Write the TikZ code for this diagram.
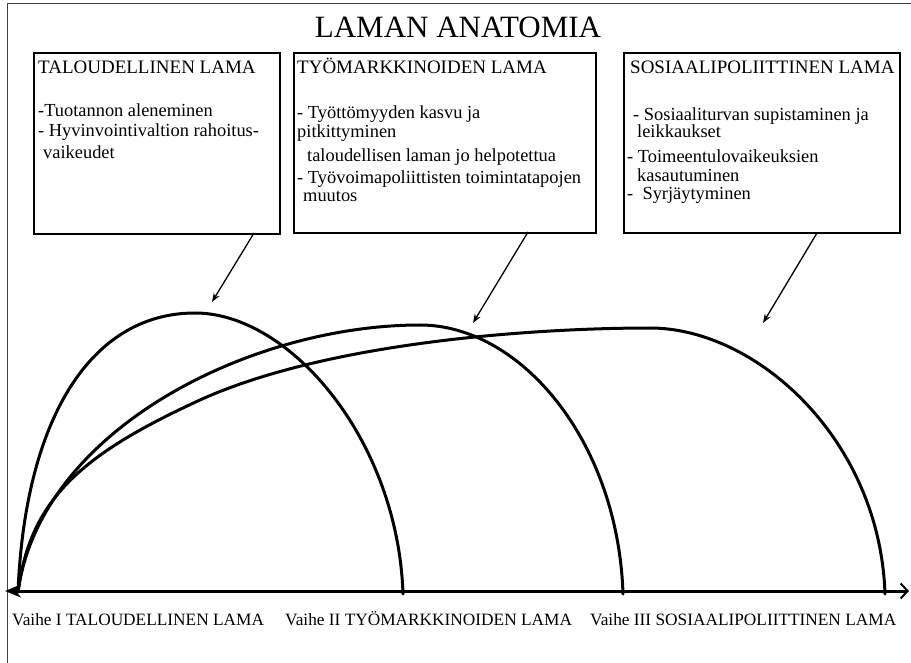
\documentclass[tikz,border=0pt]{standalone}
\usepackage{fontspec}
\setmainfont{Liberation Serif}
\usetikzlibrary{arrows.meta}
\begin{document}
\begin{tikzpicture}[x=1pt,y=-1pt,
  frameline/.style={line width=1pt, black!75},
  boxframe/.style={draw, line width=1.6pt, inner sep=0pt},
  ln/.style={anchor=base west, inner sep=0pt, font=\fontsize{18.4}{21.5}\selectfont},
  hd/.style={anchor=base west, inner sep=0pt, font=\fontsize{19}{22}\selectfont},
  phase/.style={anchor=base west, inner sep=0pt, font=\fontsize{17.3}{20}\selectfont},
  curve/.style={line width=3pt, line cap=round},
  pointer/.style={line width=1.3pt, -{Stealth[length=9pt,width=6.5pt]}},
  axisline/.style={line width=3pt, {Stealth[length=16pt,width=13pt]}-{Straight Barb[length=7pt,width=15pt,line width=2pt]}}
]
\useasboundingbox (0,0) rectangle (911,663);
% outer frame
\coordinate (fTL) at (7,4);
\coordinate (fTR) at (911,4);
\coordinate (fBL) at (7,663);
\draw[frameline] (fBL) -- (fTL) -- (fTR);
% title
\node[anchor=base, inner sep=0pt, font=\fontsize{31}{35}\selectfont] (title) at (458,38) {LAMAN ANATOMIA};
% boxes
\node[boxframe, minimum width=246pt, minimum height=181pt] (b1) at (157,143.5) {};
\node[boxframe, minimum width=302pt, minimum height=180pt] (b2) at (445,143) {};
\node[boxframe, minimum width=276pt, minimum height=180pt] (b3) at (762,143) {};
% box 1 text
\node[hd] (t1a) at (38,74) {TALOUDELLINEN LAMA};
\node[ln] (t1b) at (38,117) {-Tuotannon aleneminen};
\node[ln] (t1c) at (38,137) {- Hyvinvointivaltion rahoitus-};
\node[ln] (t1d) at (43,159) {vaikeudet};
% box 2 text
\node[hd] (t2a) at (297,74) {TYÖMARKKINOIDEN LAMA};
\node[ln] (t2b) at (297,119) {- Työttömyyden kasvu ja};
\node[ln] (t2c) at (297,138) {pitkittyminen};
\node[ln] (t2d) at (307,162) {taloudellisen laman jo helpotettua};
\node[ln] (t2e) at (297,184) {- Työvoimapoliittisten toimintatapojen};
\node[ln] (t2f) at (303,202) {muutos};
% box 3 text
\node[hd] (t3a) at (630,74) {SOSIAALIPOLIITTINEN LAMA};
\node[ln] (t3b) at (633,121) {- Sosiaaliturvan supistaminen ja};
\node[ln] (t3c) at (637,138) {leikkaukset};
\node[ln] (t3d) at (627,163) {- Toimeentulovaikeuksien};
\node[ln] (t3e) at (637,182) {kasautuminen};
\node[ln] (t3f) at (627,200) {-\ \ Syrjäytyminen};
% pointers from boxes to curves
\coordinate (p1s) at (254,233);
\coordinate (p1e) at (212,302);
\coordinate (p2s) at (528,232);
\coordinate (p2e) at (473,323);
\coordinate (p3s) at (817,233);
\coordinate (p3e) at (763,323);
\draw[pointer] (p1s) -- (p1e);
\draw[pointer] (p2s) -- (p2e);
\draw[pointer] (p3s) -- (p3e);
% curves
\draw[curve] (18,592) .. controls (25,420) and (90,313) .. (195,313)
  .. controls (290,313) and (398,440) .. (403,594);
\draw[curve] (18,592) .. controls (40,430) and (250,325) .. (420,325)
  .. controls (520,325) and (618,440) .. (623,594);
\draw[curve] (18,592) .. controls (30,500) and (80,455) .. (200,400)
  .. controls (330,341) and (540,328) .. (650,328)
  .. controls (757,328) and (880,440) .. (885,594);
% axis
\coordinate (axL) at (5,591);
\coordinate (axR) at (909,591);
\draw[axisline] (axL) -- (axR);
% phase labels
\node[phase] (v1) at (12,625) {Vaihe I TALOUDELLINEN LAMA};
\node[phase] (v2) at (285,625) {Vaihe II TYÖMARKKINOIDEN LAMA};
\node[phase] (v3) at (590,625) {Vaihe III SOSIAALIPOLIITTINEN LAMA};
\end{tikzpicture}
\end{document}
